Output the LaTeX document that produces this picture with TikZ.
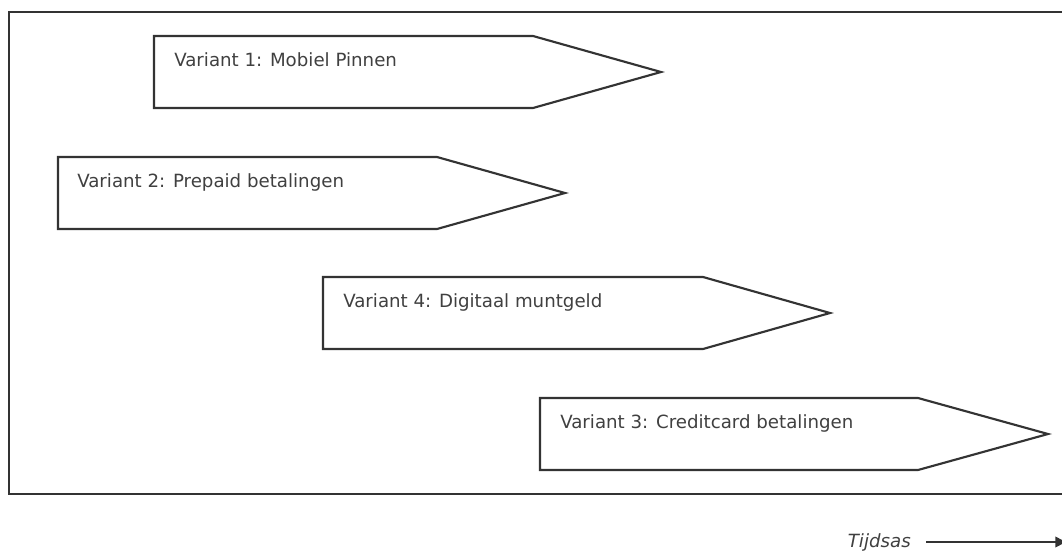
\documentclass[tikz,border=0pt]{standalone}
\usepackage{fontspec}
\setmainfont{DejaVu Sans}
\usetikzlibrary{arrows.meta}
\definecolor{linegray}{HTML}{333333}
\definecolor{textgray}{HTML}{404040}
\tikzset{
  stage/.style={draw=linegray, line width=1.6pt, line join=miter, fill=white},
  stagelabel/.style={anchor=base west, inner sep=0pt, text=textgray,
    font=\fontsize{13.65}{16}\selectfont},
  frame/.style={draw=linegray, line width=1.7pt},
  axislabel/.style={anchor=base east, inner sep=0pt, text=textgray,
    font=\fontsize{13.65}{16}\selectfont\itshape},
  axisarrow/.style={draw=linegray, line width=1.1pt, -{Triangle[length=8pt,width=8pt]}}
}
\begin{document}
\begin{tikzpicture}[x=0.75pt, y=-0.75pt]
  \useasboundingbox (0,0) rectangle (1062,550);
  % outer frame
  \draw[frame] (9,12) rectangle (1070,494);

  % left x, top y, shoulder x, tip x (each stage 72 high)
  \draw[stage] (154,36) -- (533,36) -- (661,72) -- (533,108) -- (154,108) -- cycle;
  \node[stagelabel] (v1) at (174,66) {Variant 1: Mobiel Pinnen};

  \draw[stage] (58,157) -- (437,157) -- (565,193) -- (437,229) -- (58,229) -- cycle;
  \node[stagelabel] (v2) at (77,187) {Variant 2: Prepaid betalingen};

  \draw[stage] (323,277) -- (703,277) -- (830,313) -- (703,349) -- (323,349) -- cycle;
  \node[stagelabel] (v4) at (343,307) {Variant 4: Digitaal muntgeld};

  \draw[stage] (540,398) -- (918,398) -- (1048,434) -- (918,470) -- (540,470) -- cycle;
  \node[stagelabel] (v3) at (560,428) {Variant 3: Creditcard betalingen};

  % time axis
  \node[axislabel] (tijd) at (911,547) {Tijdsas};
  \coordinate (axisend) at (1066,542);
  \draw[axisarrow] (tijd.east |- axisend) ++(15,0) coordinate (axisstart) -- (axisend);
\end{tikzpicture}
\end{document}
